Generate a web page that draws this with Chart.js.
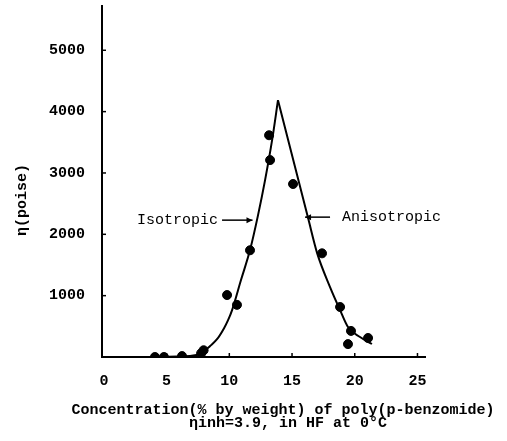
<!DOCTYPE html>
<html><head><meta charset="utf-8">
<script src="https://cdn.jsdelivr.net/npm/chart.js@4"></script>
<style>html,body{margin:0;padding:0;background:#fff}canvas{display:block}</style>
</head><body>
<canvas id="c" width="507" height="441"></canvas>
<script>
// tick values
const xTicks = [0, 5, 10, 15, 20, 25];
const yTicks = [1000, 2000, 3000, 4000, 5000];
// measured points
const dotX = [4.07, 4.79, 6.23, 7.75, 7.95, 9.82, 10.61, 11.65, 13.17, 13.25, 15.08, 17.39, 18.83, 19.70, 19.46, 21.06];
const dotY = [0, 0, 15, 60, 110, 1010, 850, 1740, 3615, 3210, 2820, 1690, 815, 425, 210, 310];
// fitted curve: rising (isotropic) branch and falling (anisotropic) branch
const riseX = [3.69, 6.87, 7.90, 8.47, 9.02, 9.58, 9.90, 10.22, 10.93, 11.65, 12.29, 12.85, 13.41, 13.88];
const riseY = [0, 16, 80, 180, 290, 470, 600, 765, 1255, 1743, 2313, 2883, 3534, 4186];
const fallX = [13.88, 16.28, 17.0, 18.03, 18.83, 19.46, 20.42, 21.37];
const fallY = [4186, 2264, 1694, 1140, 765, 489, 326, 212];
// annotations
const noteText = ["Isotropic", "Anisotropic"];
const noteTipX = [11.85, 16.04];
const noteTailX = [9.42, 18.03];
const noteY = [2231, 2280];
const noteTextX = [9.1, 18.99];
const xTitle = ["Concentration(% by weight) of poly(p-benzomide)", "\u03b7inh=3.9, in HF at 0\u00b0C"];
const yTitle = "\u03b7(poise)";

const mono = "'Liberation Mono', 'DejaVu Sans Mono', monospace";

const extras = {
  id: 'extras',
  afterDraw(chart) {
    const ctx = chart.ctx, xs = chart.scales.x, ys = chart.scales.y;
    const a = chart.chartArea;
    ctx.save();
    ctx.strokeStyle = '#000'; ctx.fillStyle = '#000'; ctx.lineWidth = 1.5;
    // inward tick marks
    yTicks.forEach(v => { const y = ys.getPixelForValue(v); ctx.beginPath(); ctx.moveTo(a.left, y); ctx.lineTo(a.left + 4, y); ctx.stroke(); });
    xTicks.forEach(v => { if (v === 0) return; const x = xs.getPixelForValue(v); ctx.beginPath(); ctx.moveTo(x, a.bottom); ctx.lineTo(x, a.bottom - 4); ctx.stroke(); });
    // annotations
    ctx.font = "15px " + mono;
    ctx.textBaseline = 'middle';
    noteText.forEach((t, i) => {
      const y = ys.getPixelForValue(noteY[i]);
      const tip = xs.getPixelForValue(noteTipX[i]);
      const tail = xs.getPixelForValue(noteTailX[i]);
      ctx.lineWidth = 1.5;
      ctx.beginPath(); ctx.moveTo(tail, y); ctx.lineTo(tip, y); ctx.stroke();
      const d = tip > tail ? -1 : 1;
      ctx.beginPath(); ctx.moveTo(tip, y); ctx.lineTo(tip + d * 6, y - 3); ctx.lineTo(tip + d * 6, y + 3); ctx.closePath(); ctx.fill();
      const tx = xs.getPixelForValue(noteTextX[i]);
      ctx.textAlign = i === 0 ? 'right' : 'left';
      ctx.fillText(t, tx, y);
    });
    // x title
    ctx.textAlign = 'center';
    ctx.font = "bold 15px " + mono;
    ctx.fillText(xTitle[0], 283, 410);
    ctx.fillText(xTitle[1], 288, 423);
    // y title
    ctx.save();
    ctx.translate(22, 200);
    ctx.rotate(-Math.PI / 2);
    ctx.font = "bold 15px " + mono;
    ctx.fillText(yTitle, 0, 0);
    ctx.restore();
    ctx.restore();
  }
};

const lineStyle = { showLine: true, borderColor: '#000', borderWidth: 2, cubicInterpolationMode: 'monotone',
  pointRadius: 0, pointHoverRadius: 0, fill: false };

new Chart(document.getElementById('c'), {
  type: 'scatter',
  data: {
    datasets: [
      {
        data: dotX.map((x, i) => ({ x, y: dotY[i] })),
        backgroundColor: '#000', borderColor: '#000',
        pointRadius: 4.5, pointHoverRadius: 4.5, showLine: false
      },
      Object.assign({ data: riseX.map((x, i) => ({ x, y: riseY[i] })) }, lineStyle),
      Object.assign({ data: fallX.map((x, i) => ({ x, y: fallY[i] })) }, lineStyle)
    ]
  },
  options: {
    responsive: false, animation: false,
    layout: { padding: { left: 0, right: 82, top: 5, bottom: 0 } },
    plugins: { legend: { display: false }, tooltip: { enabled: false } },
    scales: {
      x: {
        type: 'linear', min: -0.15, max: 25.6,
        afterBuildTicks: s => { s.ticks = xTicks.map(v => ({ value: v })); },
        afterFit: s => { s.height = 84; s.paddingLeft = 0; s.paddingRight = 0; },
        grid: { display: false },
        border: { display: true, color: '#000', width: 2 },
        ticks: { padding: 7, color: '#000', font: { family: mono, size: 15, weight: 'bold' }, maxRotation: 0,
          callback: v => String(v) }
      },
      y: {
        type: 'linear', min: 0, max: 5730,
        afterBuildTicks: s => { s.ticks = yTicks.map(v => ({ value: v })); },
        afterFit: s => { s.width = 102; s.paddingTop = 0; s.paddingBottom = 0; },
        grid: { display: false },
        border: { display: true, color: '#000', width: 2 },
        ticks: { padding: 9, color: '#000', font: { family: mono, size: 15, weight: 'bold' },
          callback: v => String(v) }
      }
    }
  },
  plugins: [extras]
});
</script>
</body></html>
